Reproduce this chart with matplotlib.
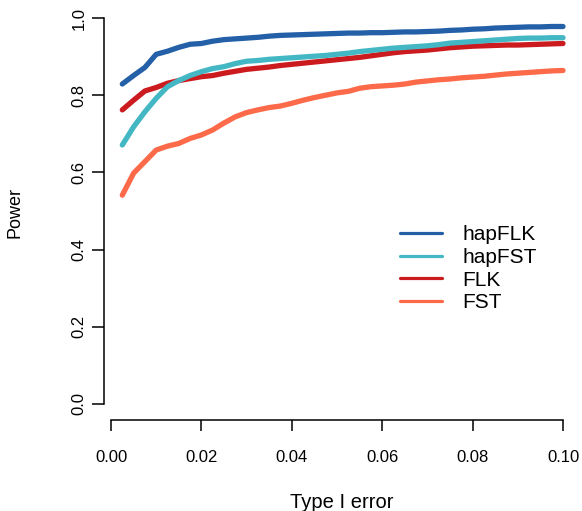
import numpy as np
import matplotlib
matplotlib.use("Agg")
import matplotlib.pyplot as plt
from matplotlib.lines import Line2D

# Type I error levels
type1_error = [0.0025 * k for k in range(1, 41)]

hapFLK = [0.829, 0.851, 0.872, 0.906, 0.914, 0.924, 0.932, 0.934, 0.940, 0.944,
          0.946, 0.948, 0.950, 0.953, 0.955, 0.956, 0.957, 0.958, 0.959, 0.960,
          0.961, 0.961, 0.962, 0.962, 0.963, 0.964, 0.964, 0.965, 0.966, 0.968,
          0.969, 0.971, 0.972, 0.974, 0.975, 0.976, 0.977, 0.977, 0.978, 0.978]
hapFST = [0.671, 0.718, 0.757, 0.792, 0.822, 0.838, 0.851, 0.861, 0.869, 0.874,
          0.882, 0.888, 0.890, 0.893, 0.895, 0.897, 0.899, 0.901, 0.903, 0.906,
          0.909, 0.913, 0.916, 0.919, 0.922, 0.924, 0.926, 0.928, 0.931, 0.935,
          0.937, 0.939, 0.941, 0.943, 0.945, 0.947, 0.948, 0.948, 0.949, 0.949]
FLK = [0.762, 0.787, 0.811, 0.820, 0.831, 0.838, 0.843, 0.848, 0.851, 0.857,
       0.862, 0.867, 0.870, 0.873, 0.877, 0.880, 0.883, 0.886, 0.889, 0.892,
       0.895, 0.898, 0.902, 0.906, 0.910, 0.913, 0.915, 0.917, 0.920, 0.923,
       0.925, 0.927, 0.928, 0.929, 0.930, 0.930, 0.931, 0.932, 0.933, 0.934]
FST = [0.541, 0.598, 0.628, 0.658, 0.668, 0.675, 0.688, 0.697, 0.710, 0.728,
       0.744, 0.755, 0.762, 0.768, 0.772, 0.779, 0.787, 0.794, 0.800, 0.806,
       0.810, 0.818, 0.822, 0.824, 0.826, 0.829, 0.834, 0.837, 0.840, 0.842,
       0.845, 0.847, 0.849, 0.852, 0.855, 0.857, 0.859, 0.861, 0.863, 0.864]

series_names = ["hapFLK", "hapFST", "FLK", "FST"]
series_values = [hapFLK, hapFST, FLK, FST]
colors = ["#2360A8", "#43B7C3", "#CB1B1F", "#FD6A4A"]

x_ticks = [0.00, 0.02, 0.04, 0.06, 0.08, 0.10]
x_tick_labels = ["0.00", "0.02", "0.04", "0.06", "0.08", "0.10"]
y_ticks = [0.0, 0.2, 0.4, 0.6, 0.8, 1.0]
y_tick_labels = ["0.0", "0.2", "0.4", "0.6", "0.8", "1.0"]

plt.rcParams['font.family'] = ['Liberation Sans', 'DejaVu Sans']

fig = plt.figure(figsize=(5.82, 5.11), dpi=100)
ax = fig.add_axes([0.17869, 0.17808, 0.81787, 0.81801])

# draw in reverse so hapFLK ends on top, hapFST above FLK
for i in reversed(range(len(series_names))):
    ax.plot(type1_error, series_values[i], color=colors[i], lw=3.8,
            solid_capstyle='round', solid_joinstyle='round', zorder=3 + (4 - i))

ax.set_xlim(-0.00155, 0.10376)
ax.set_ylim(-0.0415, 1.0415)

for s in ["top", "right"]:
    ax.spines[s].set_visible(False)
ax.spines["left"].set_bounds(0, 1)
ax.spines["bottom"].set_bounds(0, 0.1)
for s in ["left", "bottom"]:
    ax.spines[s].set_linewidth(1.1)

ax.set_xticks(x_ticks)
ax.set_xticklabels(x_tick_labels)
ax.set_yticks(y_ticks)
ax.set_yticklabels(y_tick_labels, rotation=90, va='center')
ax.tick_params(axis='x', length=7.8, width=1.1, labelsize=12, pad=13.5)
ax.tick_params(axis='y', length=8.5, width=1.1, labelsize=12, pad=4)

ax.set_xlabel("Type I error", fontsize=14.5)
ax.xaxis.label.set_va('center')
ax.xaxis.set_label_coords(0.5, -0.197)
ax.set_ylabel("Power", fontsize=13)
ax.yaxis.label.set_va('center')
ax.yaxis.set_label_coords(-0.186, 0.4976)

handles = [Line2D([0], [0], color=c, lw=2.3, solid_capstyle='round') for c in colors]
leg = ax.legend(handles, series_names, loc='upper left',
                bbox_to_anchor=(0.6218, 0.4655), frameon=False, fontsize=15,
                borderpad=0, borderaxespad=0, labelspacing=0.17,
                handlelength=2.02, handletextpad=0.96)

fig.savefig("out.png", dpi=100)
